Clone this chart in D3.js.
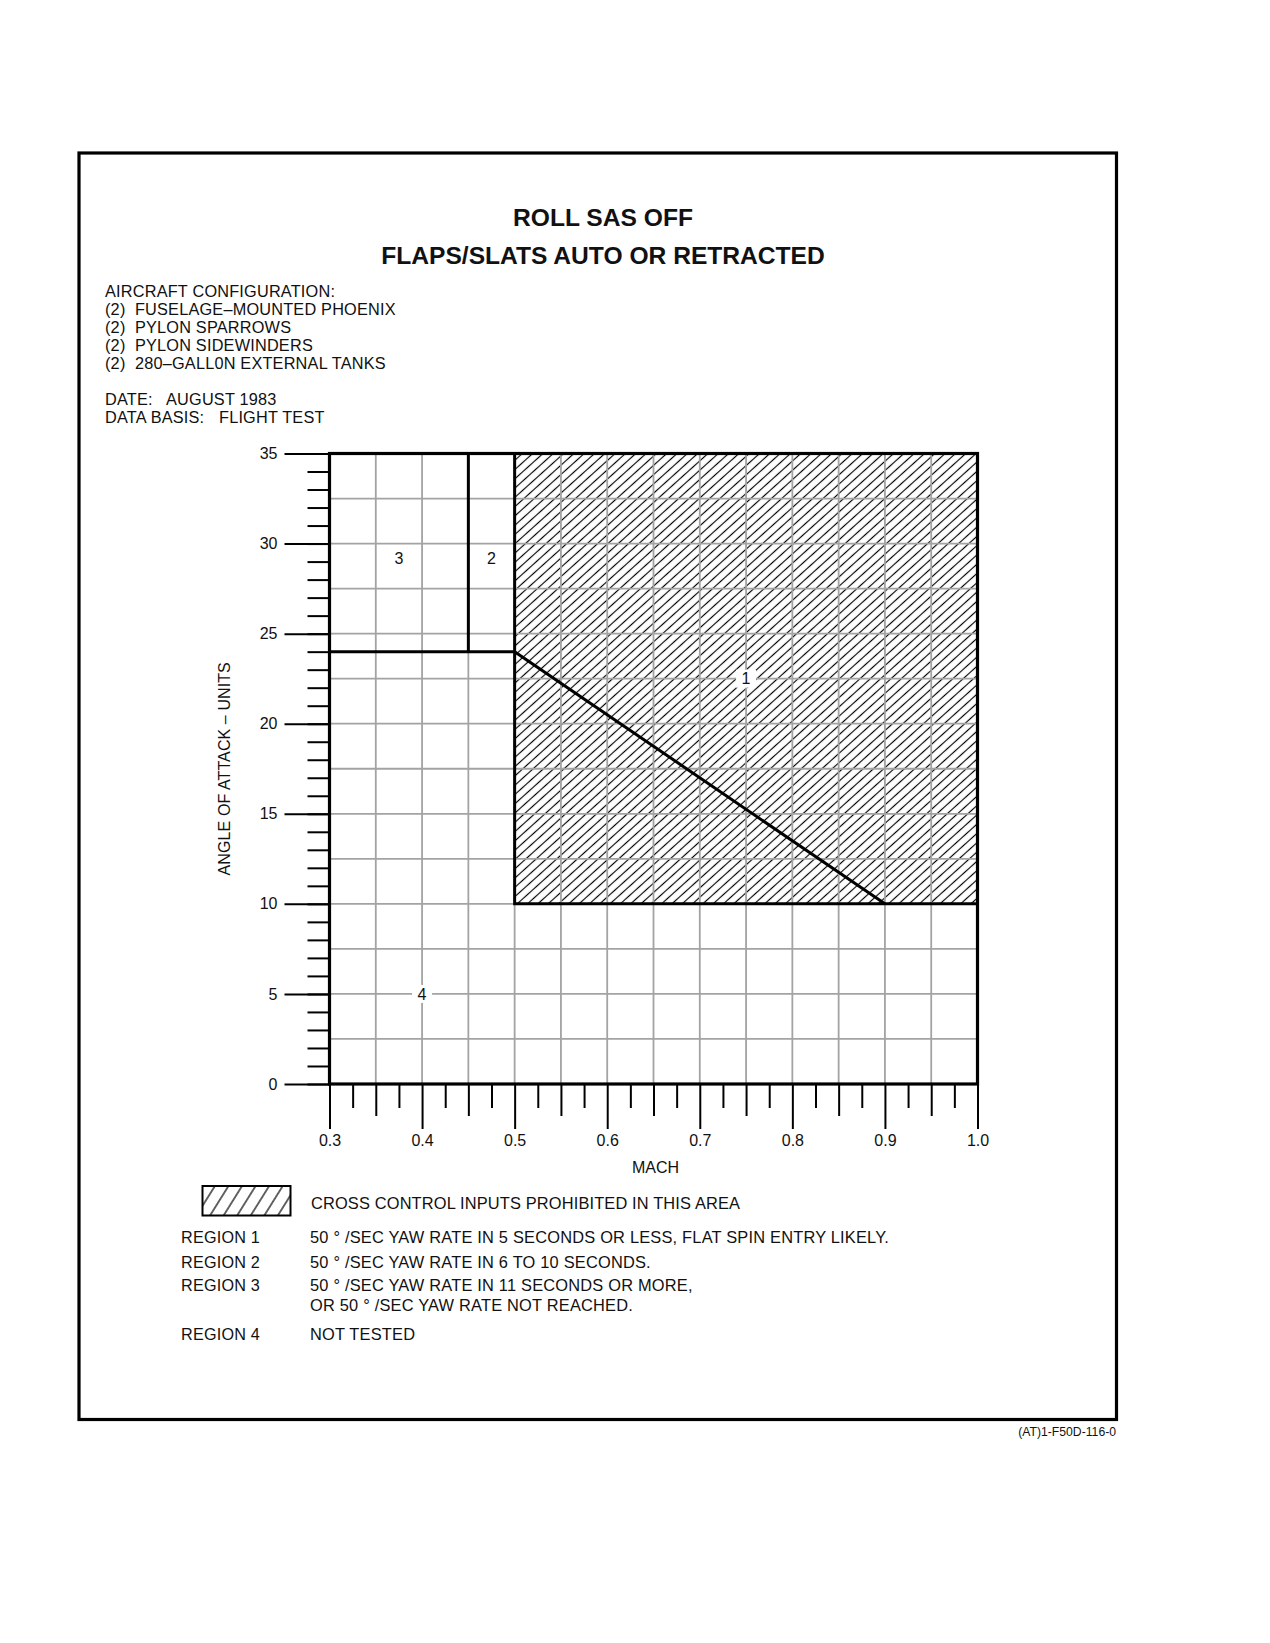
<!DOCTYPE html>
<html>
<head>
<meta charset="utf-8">
<script src="https://cdn.jsdelivr.net/npm/d3@7"></script>
<style>
  body { margin: 0; background: #fff; }
  text { font-family: "Liberation Sans", Arial, Helvetica, sans-serif; fill: #111; }
</style>
</head>
<body>
<div id="chart"></div>
<script>
// chart values
const titleLines = ["ROLL SAS OFF", "FLAPS/SLATS AUTO OR RETRACTED"];
const configLines = [
    "AIRCRAFT CONFIGURATION:",
    "(2)  FUSELAGE\u2013MOUNTED PHOENIX",
    "(2)  PYLON SPARROWS",
    "(2)  PYLON SIDEWINDERS",
    "(2)  280\u2013GALL0N EXTERNAL TANKS"
];
const infoLabels = ["DATE:", "DATA BASIS:"];
const infoValues = ["AUGUST 1983", "FLIGHT TEST"];

const machDomain = [0.3, 1.0];
const aoaDomain = [0, 35];
const machTickLabels = [0.3, 0.4, 0.5, 0.6, 0.7, 0.8, 0.9, 1.0];
const aoaTickLabels = [0, 5, 10, 15, 20, 25, 30, 35];

// region boundaries (mach, aoa)
const hatchArea = [[0.5, 35], [1.0, 35], [1.0, 10], [0.5, 10]];
const boundaries = [
    [[0.3, 24], [0.5, 24]],
    [[0.45, 24], [0.45, 35]],
    [[0.5, 35], [0.5, 10], [1.0, 10]],
    [[0.5, 24], [0.9, 10]]
];
const regionLabels = [
    { id: "1", mach: 0.75, aoa: 22.5, knockout: true },
    { id: "2", mach: 0.475, aoa: 29.2, knockout: false },
    { id: "3", mach: 0.375, aoa: 29.2, knockout: false },
    { id: "4", mach: 0.4, aoa: 5, knockout: true }
];

const legendRegions = ["REGION 1", "REGION 2", "REGION 3", "REGION 4"];
const legendTexts = [
    ["50 \u00b0 /SEC YAW RATE IN 5 SECONDS OR LESS, FLAT SPIN ENTRY LIKELY."],
    ["50 \u00b0 /SEC YAW RATE IN 6 TO 10 SECONDS."],
    ["50 \u00b0 /SEC YAW RATE IN 11 SECONDS OR MORE,", "OR 50 \u00b0 /SEC YAW RATE NOT REACHED."],
    ["NOT TESTED"]
];
const hatchLegendText = "CROSS CONTROL INPUTS PROHIBITED IN THIS AREA";
const footer = "(AT)1-F50D-116-0";

// page
const W = 1270, H = 1643;
const svg = d3.select('#chart')
    .append('svg')
    .attr('width', W)
    .attr('height', H);

const plot = { left: 329.5, right: 977.5, top: 453.5, bottom: 1084 };

const x = d3.scaleLinear().domain(machDomain).range([plot.left, plot.right]);
const y = d3.scaleLinear().domain(aoaDomain).range([plot.bottom, plot.top]);

// hatch patterns
const defs = svg.append('defs');
defs.append('pattern')
    .attr('id', 'hatch')
    .attr('patternUnits', 'userSpaceOnUse')
    .attr('width', 6.9).attr('height', 10)
    .attr('patternTransform', 'rotate(48)')
    .append('line')
    .attr('x1', 3.45).attr('x2', 3.45).attr('y1', 0).attr('y2', 10)
    .attr('stroke', '#000').attr('stroke-width', 1.15);
defs.append('pattern')
    .attr('id', 'hatchLegend')
    .attr('patternUnits', 'userSpaceOnUse')
    .attr('width', 11.5).attr('height', 10)
    .attr('patternTransform', 'rotate(32)')
    .append('line')
    .attr('x1', 5.75).attr('x2', 5.75).attr('y1', 0).attr('y2', 10)
    .attr('stroke', '#000').attr('stroke-width', 1.2);

// outer frame
svg.append('rect')
    .attr('x', 79).attr('y', 153)
    .attr('width', 1037.5).attr('height', 1266.5)
    .attr('fill', 'none').attr('stroke', '#000').attr('stroke-width', 3.2);

// titles
svg.selectAll('.title')
    .data(titleLines)
    .enter().append('text')
    .attr('class', 'title')
    .attr('x', 603)
    .attr('y', (d, i) => 226 + i * 38)
    .attr('text-anchor', 'middle')
    .style('font-size', '24.6px')
    .style('font-weight', 'bold')
    .text(d => d);

// configuration block
svg.selectAll('.config')
    .data(configLines)
    .enter().append('text')
    .attr('class', 'config')
    .attr('x', 105)
    .attr('y', (d, i) => 297 + i * 18)
    .style('font-size', '16.3px')
    .style('letter-spacing', '0.2px')
    .attr('xml:space', 'preserve')
    .text(d => d);

infoLabels.forEach((lab, i) => {
    svg.append('text')
        .attr('x', 105).attr('y', 405 + i * 18)
        .style('font-size', '16.3px')
        .style('letter-spacing', '0.2px')
        .text(lab);
    svg.append('text')
        .attr('x', i === 0 ? 166 : 219).attr('y', 405 + i * 18)
        .style('font-size', '16.3px')
        .style('letter-spacing', '0.2px')
        .text(infoValues[i]);
});

// plot background
svg.append('rect')
    .attr('x', plot.left).attr('y', plot.top)
    .attr('width', plot.right - plot.left).attr('height', plot.bottom - plot.top)
    .attr('fill', '#fff');

const line = d3.line()
    .x(d => x(d[0]))
    .y(d => y(d[1]));

// hatched region
svg.append('path')
    .datum(hatchArea)
    .attr('d', d => line(d) + 'Z')
    .attr('fill', 'url(#hatch)');

// grid
const gridX = d3.range(0.35, 0.999, 0.05);
const gridY = d3.range(2.5, 34.9, 2.5);
svg.append('g')
    .selectAll('line')
    .data(gridX)
    .enter().append('line')
    .attr('x1', d => x(d)).attr('x2', d => x(d))
    .attr('y1', plot.top).attr('y2', plot.bottom)
    .attr('stroke', '#a3a3a3').attr('stroke-width', 1.8);
svg.append('g')
    .selectAll('line')
    .data(gridY)
    .enter().append('line')
    .attr('y1', d => y(d)).attr('y2', d => y(d))
    .attr('x1', plot.left).attr('x2', plot.right)
    .attr('stroke', '#a3a3a3').attr('stroke-width', 1.8);

// white knockouts behind some labels
svg.selectAll('.knock')
    .data(regionLabels.filter(d => d.knockout))
    .enter().append('rect')
    .attr('x', d => x(d.mach) - 10)
    .attr('y', d => y(d.aoa) - 9)
    .attr('width', 20).attr('height', 18)
    .attr('fill', '#fff');

// region boundaries
svg.selectAll('.boundary')
    .data(boundaries)
    .enter().append('path')
    .attr('d', line)
    .attr('fill', 'none')
    .attr('stroke', '#000')
    .attr('stroke-width', 3);

// plot frame
svg.append('rect')
    .attr('x', plot.left).attr('y', plot.top)
    .attr('width', plot.right - plot.left).attr('height', plot.bottom - plot.top)
    .attr('fill', 'none').attr('stroke', '#000').attr('stroke-width', 3.2);

// region labels
svg.selectAll('.rlabel')
    .data(regionLabels)
    .enter().append('text')
    .attr('x', d => x(d.mach))
    .attr('y', d => y(d.aoa))
    .attr('dy', '0.36em')
    .attr('text-anchor', 'middle')
    .style('font-size', '16px')
    .text(d => d.id);

// y axis: minor ticks then major ticks with labels
const yMinor = svg.append('g')
    .attr('transform', `translate(${plot.left},0)`)
    .call(d3.axisLeft(y).tickValues(d3.range(0, 36, 1)).tickSize(22).tickFormat(''));
const yMajor = svg.append('g')
    .attr('transform', `translate(${plot.left},0)`)
    .call(d3.axisLeft(y).tickValues(aoaTickLabels).tickSize(45).tickPadding(7).tickFormat(d3.format('d')));
[yMinor, yMajor].forEach(g => {
    g.select('.domain').remove();
    g.selectAll('.tick line').attr('stroke', '#000').attr('stroke-width', 2);
    g.selectAll('.tick text')
        .style('font-family', '"Liberation Sans", Arial, sans-serif')
        .style('font-size', '16px').attr('fill', '#111');
});

// x axis: three tick lengths
const xTicks025 = d3.range(0, 29).map(i => 0.3 + i * 0.025);
const xShort = xTicks025.filter((d, i) => i % 2 === 1);
const xMid = xTicks025.filter((d, i) => i % 4 === 2);
const xAxes = [
    { vals: xShort, size: 24, fmt: '' },
    { vals: xMid, size: 32, fmt: '' },
    { vals: machTickLabels, size: 45, fmt: d3.format('.1f') }
];
xAxes.forEach(a => {
    const g = svg.append('g')
        .attr('transform', `translate(0,${plot.bottom})`)
        .call(d3.axisBottom(x).tickValues(a.vals).tickSize(a.size).tickPadding(6).tickFormat(a.fmt));
    g.select('.domain').remove();
    g.selectAll('.tick line').attr('stroke', '#000').attr('stroke-width', 2);
    g.selectAll('.tick text')
        .style('font-family', '"Liberation Sans", Arial, sans-serif')
        .style('font-size', '16px').attr('fill', '#111');
});

// axis titles
svg.append('text')
    .attr('x', (plot.left + plot.right) / 2 + 2)
    .attr('y', 1173)
    .attr('text-anchor', 'middle')
    .style('font-size', '16px')
    .text('MACH');
svg.append('text')
    .attr('transform', `translate(230,${(plot.top + plot.bottom) / 2}) rotate(-90)`)
    .attr('text-anchor', 'middle')
    .style('font-size', '16px')
    .style('letter-spacing', '0.1px')
    .text('ANGLE OF ATTACK \u2013 UNITS');

// legend
svg.append('rect')
    .attr('x', 202.5).attr('y', 1186)
    .attr('width', 88).attr('height', 29.5)
    .attr('fill', 'url(#hatchLegend)')
    .attr('stroke', '#000').attr('stroke-width', 2);
svg.append('text')
    .attr('x', 311).attr('y', 1209)
    .style('font-size', '16.4px')
    .style('letter-spacing', '0.15px')
    .text(hatchLegendText);

const legendY = [1243, 1268, 1291, 1340];
legendRegions.forEach((r, i) => {
    svg.append('text')
        .attr('x', 181).attr('y', legendY[i])
        .style('font-size', '16.2px')
        .style('letter-spacing', '0.2px')
        .text(r);
    legendTexts[i].forEach((t, j) => {
        svg.append('text')
            .attr('x', 310).attr('y', legendY[i] + j * 19.5)
            .style('font-size', '16.4px')
            .style('letter-spacing', '0.2px')
            .text(t);
    });
});

// footer code
svg.append('text')
    .attr('x', 1116).attr('y', 1436)
    .attr('text-anchor', 'end')
    .style('font-size', '12.2px')
    .text(footer);
</script>
</body>
</html>
